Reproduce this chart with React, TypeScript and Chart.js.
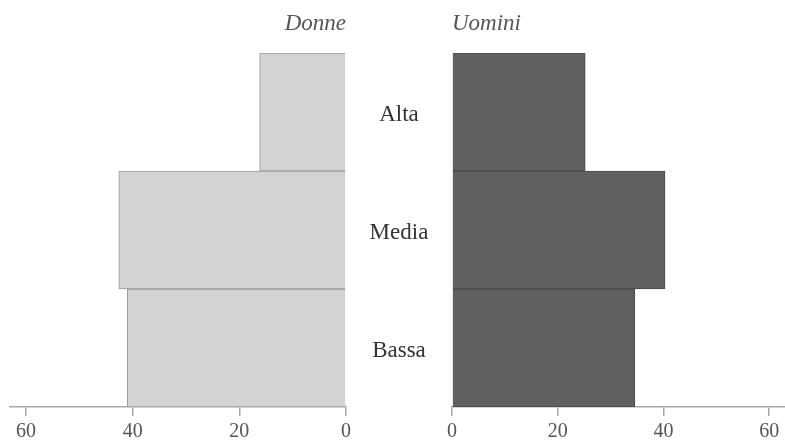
import React, { useEffect, useRef } from "react";
import { Chart, registerables } from "chart.js";

Chart.register(...registerables);

const categories = ["Alta", "Media", "Bassa"];
const donneValues = [16.2, 42.6, 41.0];
const uominiValues = [25.2, 40.3, 34.6];
const axisMax = 63;
const tickStep = 20;
const leftTitle = "Donne";
const rightTitle = "Uomini";

const W = 785;
const H = 441;
const FONT = '"Liberation Serif", "Times New Roman", serif';

export default function App() {
  const leftRef = useRef<HTMLCanvasElement | null>(null);
  const rightRef = useRef<HTMLCanvasElement | null>(null);

  useEffect(() => {
    const axisColor = "#a8a8a8";
    const tickColor = "#555";
    const xScale = (reverse: boolean) => ({
      type: "linear" as const,
      reverse,
      min: 0,
      max: axisMax,
      afterFit: (s: any) => {
        s.height = 34;
      },
      ticks: {
        stepSize: tickStep,
        includeBounds: false,
        color: tickColor,
        padding: 4,
        font: { family: FONT, size: 20 },
      },
      grid: {
        display: true,
        drawOnChartArea: false,
        drawTicks: true,
        tickLength: 9,
        color: axisColor,
        lineWidth: 1.5,
      },
      border: { display: true, color: axisColor, width: 1.5 },
    });

    const titleOpts = (text: string, align: "start" | "end", fullSize: boolean) => ({
      display: true,
      text,
      align,
      fullSize,
      color: "#555",
      font: { family: FONT, size: 23, style: "italic" as const, weight: "normal" as const },
      padding: { top: 10, bottom: 15.4 },
    });

    const left = new Chart(leftRef.current!, {
      type: "bar",
      data: {
        labels: categories,
        datasets: [
          {
            label: leftTitle,
            data: donneValues,
            backgroundColor: "#d3d3d3",
            borderColor: "#9c9c9c",
            borderWidth: 1,
            barPercentage: 1,
            categoryPercentage: 1,
          },
        ],
      },
      options: {
        indexAxis: "y",
        responsive: false,
        animation: false,
        layout: { padding: { left: 10, right: W - 346, top: 0, bottom: 0 } },
        plugins: {
          legend: { display: false },
          tooltip: { enabled: false },
          title: titleOpts(leftTitle, "end", true),
        },
        scales: {
          x: xScale(true),
          y: { display: false },
        },
      } as any,
    });

    const labelFontSize = 23;
    const meas = document.createElement("canvas").getContext("2d")!;
    meas.font = `${labelFontSize}px ${FONT}`;
    const widest = Math.max(...categories.map((c) => meas.measureText(c).width));
    const gapWidth = 106;

    const right = new Chart(rightRef.current!, {
      type: "bar",
      data: {
        labels: categories,
        datasets: [
          {
            label: rightTitle,
            data: uominiValues,
            backgroundColor: "#606060",
            borderColor: "#4a4a4a",
            borderWidth: 1,
            barPercentage: 1,
            categoryPercentage: 1,
          },
        ],
      },
      options: {
        indexAxis: "y",
        responsive: false,
        animation: false,
        layout: { padding: { left: 346, right: 0, top: 0, bottom: 0 } },
        plugins: {
          legend: { display: false },
          tooltip: { enabled: false },
          title: titleOpts(rightTitle, "start", false),
        },
        scales: {
          x: xScale(false),
          y: {
            position: "left",
            afterFit: (s: any) => {
              s.width = gapWidth;
              s.paddingTop = 0;
              s.paddingBottom = 0;
            },
            ticks: {
              color: "#333",
              crossAlign: "center",
              padding: 0,
              labelOffset: 3,
              font: { family: FONT, size: labelFontSize },
            },
            grid: {
              display: false,
              drawTicks: true,
              tickLength: (gapWidth - widest) / 2,
              drawOnChartArea: false,
            },
            border: { display: false },
          },
        },
      } as any,
    });

    return () => {
      left.destroy();
      right.destroy();
    };
  }, []);

  return (
    <div
      style={{
        position: "fixed",
        left: 0,
        top: 0,
        width: W,
        height: H,
        background: "#fff",
      }}
    >
      <canvas
        ref={leftRef}
        width={W}
        height={H}
        style={{ position: "absolute", left: 0, top: 0 }}
      />
      <canvas
        ref={rightRef}
        width={W}
        height={H}
        style={{ position: "absolute", left: 0, top: 0 }}
      />
    </div>
  );
}
